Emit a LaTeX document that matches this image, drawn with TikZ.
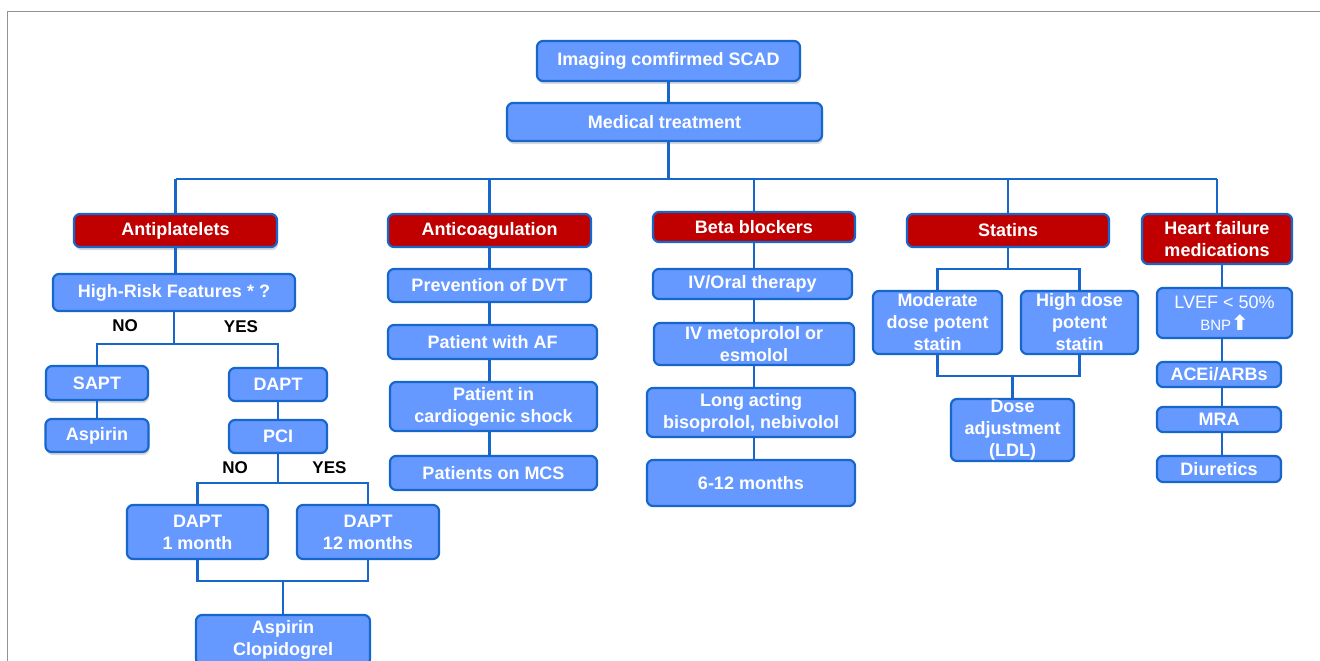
\documentclass[tikz,border=0pt]{standalone}
\usepackage{fontspec}
\setmainfont{Liberation Sans}
\newfontfamily\symfont{DejaVu Sans}
\usetikzlibrary{positioning, shadows}

\definecolor{boxblue}{RGB}{102,153,255}
\definecolor{lineblue}{RGB}{22,102,204}
\definecolor{hdrred}{RGB}{192,0,0}

\begin{document}
\begin{tikzpicture}[
  x=1pt, y=-1pt,
  every node/.style={font=\bfseries\fontsize{18}{22}\selectfont},
  sz/.style 2 args = {minimum width=#1pt, minimum height=#2pt},
  box/.style   = {draw=lineblue, line width=2.2pt, fill=boxblue, text=white, rounded corners=6pt, align=center, inner sep=1pt},
  cls/.style   = {box, fill=hdrred},
  shd/.style   = {drop shadow={opacity=0.3, shadow xshift=1pt, shadow yshift=-3pt}},
  lnk/.style   = {draw=lineblue, line width=2.5pt},
  ans/.style   = {text=black, font=\bfseries\fontsize{17}{20}\selectfont},
  frame/.style = {draw=gray!85, line width=1.2pt},
]
  \useasboundingbox (0,0) rectangle (1320,661);
  \clip (0,0) rectangle (1320,661);
  \draw[frame] (7.5,661) -- (7.5,11.5) -- (1320,11.5);

  % trunk
  \node[box, shd, sz={263}{40}] (img) at (668.5,61)  {Imaging comfirmed SCAD};
  \node[box, shd, sz={315}{38}] (med) at (664.5,122) {Medical treatment};

  % class headers
  \node[cls, shd, sz={203}{33}] (anti) at (175.5,230.5) {Antiplatelets};
  \node[cls, sz={203}{33}]      (coag) at (489.5,230.5) {Anticoagulation};
  \node[cls, sz={202}{30}]      (beta) at (754,227)     {Beta blockers};
  \node[cls, sz={202}{33}]      (stat) at (1008,230.5)  {Statins};
  \node[cls, sz={150}{50}]      (hf)   at (1217,239)    {Heart failure\\medications};

  % antiplatelets
  \node[box, sz={242}{37}]      (hrf)  at (174,292.5) {High-Risk Features * ?};
  \node[box, shd, sz={102}{34}] (sapt) at (97,383)    {SAPT};
  \node[box, shd, sz={103}{33}] (asp)  at (97,435.5)  {Aspirin};
  \node[box, sz={98}{33}]       (dapt) at (278,384.5) {DAPT};
  \node[box, sz={98}{33}]       (pci)  at (278,436.5) {PCI};
  \node[box, sz={141}{54}]      (d1)   at (197.5,532) {DAPT\\1 month};
  \node[box, sz={142}{54}]      (d12)  at (368,532)   {DAPT\\12 months};
  \node[box, sz={174}{50}]      (ac)   at (283,640)   {Aspirin\\Clopidogrel};
  \node[ans] (no1)  at (125,326) {NO};
  \node[ans] (yes1) at (241,327) {YES};
  \node[ans] (no2)  at (235,468) {NO};
  \node[ans] (yes2) at (329.5,468) {YES};

  % anticoagulation
  \node[box, sz={203}{33}] (dvt)   at (489.5,285.5) {Prevention of DVT};
  \node[box, sz={209}{34}] (af)    at (492.5,342)   {Patient with AF};
  \node[box, sz={207}{49}] (shock) at (493.5,406.5) {Patient in\\cardiogenic shock};
  \node[box, sz={207}{34}] (mcs)   at (493.5,473)   {Patients on MCS};

  % beta blockers
  \node[box, sz={199}{30}] (oral) at (752.5,284) {IV/Oral therapy};
  \node[box, sz={200}{42}] (meto) at (754,344)   {IV metoprolol or\\esmolol};
  \node[box, sz={208}{49}] (long) at (751,412.5) {Long acting\\bisoprolol, nebivolol};
  \node[box, sz={208}{46}] (six)  at (751,483)   {6-12 months};

  % statins
  \node[box, sz={129}{63}] (mod)  at (937.5,322.5)  {Moderate\\dose potent\\statin};
  \node[box, sz={117}{63}] (high) at (1079.5,322.5) {High dose\\potent\\statin};
  \node[box, sz={123}{62}] (dose) at (1012.5,430)   {Dose\\adjustment\\(LDL)};

  % heart failure
  \node[box, sz={135}{50}] (lvef) at (1224.5,313) {{\mdseries LVEF < 50\%}\\{\mdseries\fontsize{15}{18}\selectfont BNP}{\symfont\fontsize{21}{18}\selectfont ⬆}};
  \node[box, sz={124}{25}] (ace)  at (1219,374.5) {ACEi/ARBs};
  \node[box, sz={124}{25}] (mra)  at (1219,419.5) {MRA};
  \node[box, sz={124}{26}] (diu)  at (1219,469)   {Diuretics};

  % connectors
  \coordinate (busy) at (0,179);
  \coordinate (s1)   at (0,344);
  \coordinate (s2)   at (0,483);
  \coordinate (m1)   at (0,581);
  \coordinate (s3)   at (0,269);
  \coordinate (m2)   at (0,376);
  \coordinate (hfx)  at (1222,0);

  \draw[lnk] (img.south) -- (img.south |- med.north);
  \draw[lnk] (med.south -| img) -- (img |- busy);
  \draw[lnk] (anti |- busy) -- (hf |- busy);
  \foreach \c in {anti, coag, beta, stat, hf}
    \draw[lnk] (\c |- busy) -- (\c.north);

  \draw[lnk] (anti.south) -- (anti.south |- hrf.north);
  \draw[lnk] (hrf.south) -- (hrf.south |- s1);
  \draw[lnk] (sapt.north) |- (hrf.south |- s1) -| (dapt.north);
  \draw[lnk] (sapt.south) -- (asp.north);
  \draw[lnk] (dapt.south) -- (pci.north);
  \draw[lnk] (pci.south) -- (pci.south |- s2);
  \draw[lnk] (d1.north) |- (pci.south |- s2) -| (d12.north);
  \draw[lnk] (d1.south) |- (ac.north |- m1) -| (d12.south);
  \draw[lnk] (ac.north |- m1) -- (ac.north);

  \foreach \a/\b/\h in {coag/dvt/coag, dvt/af/coag, af/shock/coag, shock/mcs/coag,
                        beta/oral/beta, oral/meto/beta, meto/long/beta, long/six/beta,
                        hf/lvef/hfx, lvef/ace/hfx, ace/mra/hfx, mra/diu/hfx}
    \draw[lnk] (\h |- \a.south) -- (\h |- \b.north);

  \draw[lnk] (stat.south) -- (stat.south |- s3);
  \draw[lnk] (mod.north) |- (stat.south |- s3) -| (high.north);
  \draw[lnk] (mod.south) |- (dose.north |- m2) -| (high.south);
  \draw[lnk] (dose.north |- m2) -- (dose.north);
\end{tikzpicture}
\end{document}
